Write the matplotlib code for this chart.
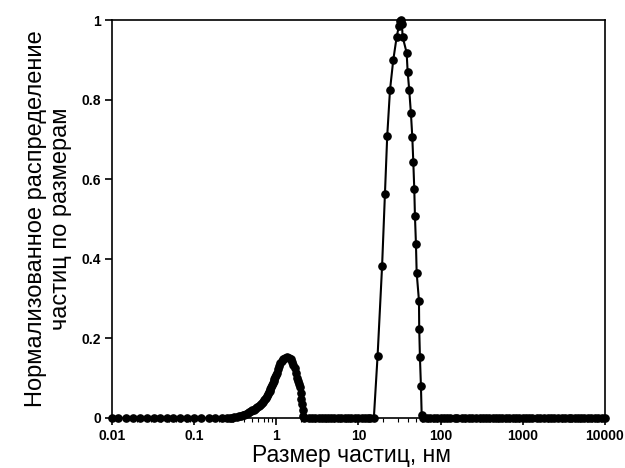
import matplotlib
matplotlib.use("Agg")
import matplotlib.pyplot as plt
from matplotlib.ticker import LogLocator, FixedLocator

plt.rcParams['font.family'] = ['Liberation Sans', 'DejaVu Sans']

# размер частиц (нм) и нормализованное распределение
size_zero_1 = [0.01, 0.012, 0.015, 0.018, 0.022, 0.027, 0.033, 0.039, 0.047,
               0.056, 0.068, 0.082, 0.10, 0.12, 0.15, 0.18, 0.22, 0.25]
size_peak_1 = [0.27, 0.29, 0.31, 0.33, 0.35, 0.37, 0.39, 0.41, 0.43, 0.45,
               0.47, 0.49, 0.51, 0.53, 0.55, 0.57, 0.59, 0.61, 0.63, 0.65,
               0.67, 0.69, 0.71, 0.73, 0.75, 0.77, 0.79, 0.81, 0.83, 0.85,
               0.87, 0.89, 0.91, 0.93, 0.95, 0.97, 0.99, 1.02, 1.05, 1.08,
               1.11, 1.16, 1.22, 1.29, 1.36, 1.43, 1.50, 1.56, 1.62, 1.69,
               1.73, 1.80, 1.85, 1.90, 1.94, 1.98, 2.02, 2.05, 2.09, 2.13]
dist_peak_1 = [0.0, 0.001, 0.002, 0.003, 0.004, 0.005, 0.007, 0.008, 0.010, 0.012,
               0.015, 0.017, 0.019, 0.021, 0.023, 0.025, 0.027, 0.030, 0.033, 0.035,
               0.038, 0.041, 0.044, 0.048, 0.051, 0.055, 0.060, 0.064, 0.068, 0.072,
               0.077, 0.082, 0.088, 0.093, 0.099, 0.104, 0.108, 0.114, 0.122, 0.130,
               0.137, 0.143, 0.147, 0.150, 0.152, 0.151, 0.147, 0.141, 0.133, 0.126,
               0.112, 0.100, 0.094, 0.085, 0.077, 0.062, 0.048, 0.036, 0.020, 0.005]
size_zero_2 = [2.2, 2.5, 2.7, 3.0, 3.3, 3.6, 3.9, 4.3, 4.7, 5.1, 5.6, 6.2,
               6.8, 7.5, 8.2, 9.1, 10, 11, 12, 13, 14]
size_peak_2 = [15.4, 17.1, 19.4, 21.0, 22.4, 24.2, 26.5, 29.2, 31.0, 32.0,
               33.0, 33.8, 34.5, 38.6, 39.7, 41.5, 43.5, 45.2, 46.5, 47.8,
               48.7, 50.1, 51.1, 54.5, 54.9, 56.0, 57.6, 58.8]
dist_peak_2 = [0.0, 0.156, 0.382, 0.563, 0.709, 0.824, 0.899, 0.958, 0.985, 0.998,
               1.0, 0.99, 0.958, 0.918, 0.870, 0.824, 0.766, 0.707, 0.644, 0.575,
               0.508, 0.437, 0.365, 0.295, 0.224, 0.153, 0.080, 0.008]
size_zero_3 = [61, 68, 75, 82, 91, 100, 110, 120, 130, 150, 160, 180, 200, 220,
               240, 270, 300, 330, 360, 390, 430, 470, 510, 560, 620, 680, 750,
               820, 910, 1000, 1100, 1200, 1300, 1500, 1600, 1800, 2000, 2200,
               2400, 2700, 3000, 3300, 3600, 3900, 4300, 4700, 5100, 5600, 6200,
               6800, 7500, 8200, 9100, 10000]

x_ticks = [0.01, 0.1, 1, 10, 100, 1000, 10000]
x_labels = ['0.01', '0.1', '1', '10', '100', '1000', '10000']
y_ticks = [0, 0.2, 0.4, 0.6, 0.8, 1]
y_labels = ['0', '0.2', '0.4', '0.6', '0.8', '1']

sizes = size_zero_1 + size_peak_1 + size_zero_2 + size_peak_2 + size_zero_3
dist = ([0.0] * len(size_zero_1) + dist_peak_1 + [0.0] * len(size_zero_2)
        + dist_peak_2 + [0.0] * len(size_zero_3))

fig = plt.figure(figsize=(6.25, 4.68), dpi=100)
ax = fig.add_axes([0.179, 0.107, 0.789, 0.850])

ax.plot(sizes, dist, '-o', color='black', lw=1.5, ms=5.2, clip_on=False)

ax.set_xscale('log')
ax.set_xlim(0.01, 10000)
ax.set_ylim(0, 1)
ax.xaxis.set_major_locator(FixedLocator(x_ticks))
ax.set_xticklabels(x_labels)
ax.xaxis.set_minor_locator(LogLocator(base=10, subs=range(2, 10)))
ax.set_yticks(y_ticks)
ax.set_yticklabels(y_labels)

ax.tick_params(axis='both', which='major', direction='out', length=5, width=1.2,
               labelsize=10, pad=3)
ax.tick_params(axis='x', which='minor', direction='out', length=3, width=0.8)
for lab in ax.get_xticklabels() + ax.get_yticklabels():
    lab.set_fontweight('bold')
for s in ax.spines.values():
    s.set_linewidth(1.2)

ax.set_xlabel('Размер частиц, нм', fontsize=16.5)
ax.xaxis.label.set_va('baseline')
ax.xaxis.set_label_coords(0.485, -0.112)
ax.set_ylabel('Нормализованное распределение\nчастиц по размерам', fontsize=17,
              linespacing=1.2)
ax.yaxis.set_label_coords(-0.08, 0.5)

fig.savefig('out.png', dpi=100)
